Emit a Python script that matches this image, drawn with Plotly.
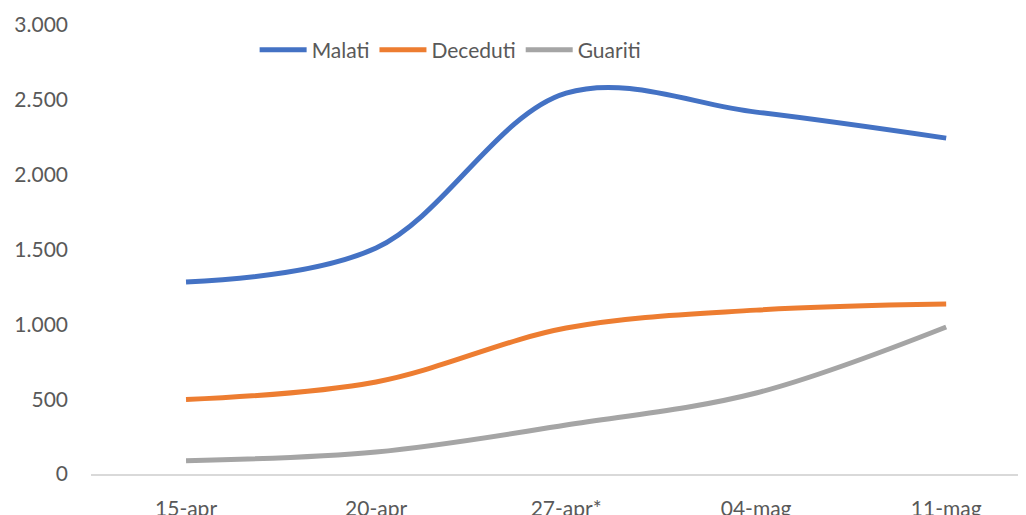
import plotly.graph_objects as go

categories = ["15-apr", "20-apr", "27-apr*", "04-mag", "11-mag"]
malati = [1283, 1510, 2545, 2418, 2244]
deceduti = [497, 615, 975, 1095, 1136]
guariti = [89, 147, 327, 541, 982]
y_ticks = [0, 500, 1000, 1500, 2000, 2500, 3000]
y_tick_labels = ["0", "500", "1.000", "1.500", "2.000", "2.500", "3.000"]

series = [("Malati", malati, "#4472C4"),
          ("Deceduti", deceduti, "#ED7D31"),
          ("Guariti", guariti, "#A5A5A5")]

fig = go.Figure()
for name, vals, color in series:
    fig.add_trace(go.Scatter(x=categories, y=vals, name=name, mode="lines",
                             line=dict(color=color, width=5, shape="spline", smoothing=1.0)))

font_family = "Lato, 'Open Sans', sans-serif"
fig.update_layout(
    width=1026, height=515,
    margin=dict(l=83, r=8, t=17, b=49),
    paper_bgcolor="white", plot_bgcolor="white",
    font=dict(family=font_family, size=21, color="#595959"),
    showlegend=True,
    legend=dict(orientation="h", x=0.175, y=0.944, xanchor="left", yanchor="middle",
                font=dict(size=21, color="#595959"), itemwidth=47,
                bgcolor="rgba(0,0,0,0)", tracegroupgap=0),
    xaxis=dict(type="category", range=[-0.5, 4.42], showgrid=False, zeroline=False,
               showline=True, linecolor="#D9D9D9", linewidth=2, ticks="", ticklabelstandoff=15,
               automargin=False, tickfont=dict(size=21, color="#595959")),
    yaxis=dict(range=[0, 3000], tickvals=y_ticks, ticktext=y_tick_labels, showgrid=False,
               zeroline=False, showline=False, ticks="", ticklabelstandoff=22,
               automargin=False, tickfont=dict(size=21, color="#595959")),
)
fig.write_html("out.html")
